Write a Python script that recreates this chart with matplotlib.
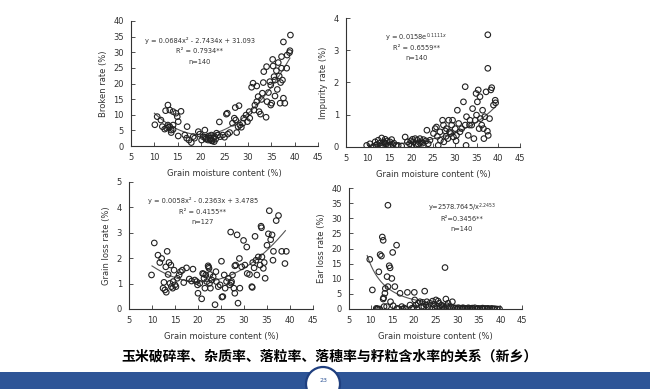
import numpy as np
import matplotlib
matplotlib.use("Agg")
import matplotlib.pyplot as plt
from matplotlib.patches import Rectangle, Ellipse

plt.rcParams['font.family'] = ['DejaVu Sans']

# ---- data ----
broken_x = [10.1, 10.6, 11.4, 11.7, 12.4, 12.9, 13.3, 14.0, 14.9, 15.1, 15.7, 14.6,
            12.6, 13.3, 13.6, 12.9, 14.0, 13.6, 14.0, 15.1, 16.5, 17.0, 16.9, 17.4,
            17.9, 18.3, 18.6, 19.4, 19.7, 20.1, 20.4, 20.8, 21.1, 21.5, 21.9, 22.2,
            22.2, 22.6, 22.8, 22.9, 23.3, 23.6, 23.9, 24.1, 24.6, 25.0, 25.4, 25.6,
            25.7, 26.1, 26.7, 27.1, 27.4, 27.3, 28.1, 27.6, 27.9, 28.3, 28.6, 28.9,
            29.1, 29.6, 29.9, 30.3, 30.4, 30.8, 31.1, 31.3, 31.5, 31.9, 31.9, 32.2,
            32.4, 32.7, 32.9, 33.1, 33.3, 33.4, 33.9, 34.0, 34.1, 34.4, 34.7, 34.9,
            34.9, 35.1, 35.3, 35.4, 35.6, 35.8, 35.8, 36.1, 36.3, 36.5, 36.7, 36.9,
            37.0, 37.2, 37.2, 37.4, 37.6, 37.6, 37.9, 38.3, 38.4, 38.9, 39.0, 39.1,
            21.0, 22.0, 21.6, 22.4, 20.9, 12.2, 13.0, 23.1]
broken_y = [6.8, 9.4, 8.3, 6.2, 11.3, 13.1, 11.5, 11.0, 9.4, 7.8, 11.1, 10.5,
            5.7, 6.2, 5.1, 6.7, 6.7, 4.3, 5.3, 3.2, 3.5, 6.2, 2.5, 1.9,
            1.1, 3.0, 2.5, 4.6, 3.8, 1.9, 3.0, 5.1, 2.5, 1.9, 2.5, 3.5,
            1.7, 2.5, 1.4, 3.0, 4.1, 3.5, 7.7, 3.0, 3.5, 2.8, 10.2, 10.5,
            3.8, 4.3, 7.3, 8.9, 8.3, 12.3, 12.9, 4.3, 6.2, 6.7, 6.0, 7.3,
            8.9, 9.9, 7.8, 11.0, 8.9, 18.8, 20.1, 11.5, 13.1, 19.2, 14.2, 15.8,
            11.0, 10.2, 14.9, 16.9, 20.3, 23.8, 9.2, 25.4, 14.2, 17.1, 20.6, 19.5,
            13.1, 13.7, 27.7, 25.6, 22.2, 21.1, 16.0, 24.1, 18.1, 26.7, 22.4, 13.7,
            20.3, 24.9, 28.6, 21.1, 15.3, 33.3, 13.7, 24.9, 29.1, 29.9, 30.5, 35.5,
            2.2, 2.0, 3.2, 1.6, 2.8, 5.4, 6.0, 2.2]

impurity_x = [9.75, 10.5, 11.3, 11.7, 12.2, 12.4, 12.8, 13.2, 13.4, 13.7, 14.0, 14.2,
              14.5, 14.7, 15.1, 15.5, 15.7, 16.0, 16.5, 17.0, 17.8, 18.6, 19.1, 19.6,
              19.9, 20.1, 20.5, 20.9, 21.1, 21.4, 21.9, 22.0, 22.4, 22.8, 23.4, 23.9,
              24.3, 22.8, 23.6, 25.1, 25.5, 25.8, 26.0, 26.2, 26.6, 26.7, 27.2, 27.4,
              27.5, 27.8, 28.0, 28.1, 28.4, 28.6, 28.8, 29.1, 29.3, 29.5, 29.7, 30.1,
              30.3, 30.4, 30.6, 30.9, 31.2, 31.6, 32.0, 32.4, 32.4, 32.6, 32.7, 33.1,
              33.4, 33.5, 33.9, 34.1, 34.4, 34.7, 34.9, 35.0, 35.2, 35.4, 35.6, 35.8,
              35.9, 36.2, 36.4, 36.6, 36.7, 36.9, 37.2, 37.5, 37.6, 37.6, 37.7, 38.0,
              38.3, 38.5, 38.9, 39.3, 39.4, 12.9, 13.9, 11.9, 15.3, 21.6, 22.6, 20.3]
impurity_y = [0.05, 0.10, 0.02, 0.16, 0.08, 0.21, 0.12, 0.28, 0.05, 0.16, 0.24, 0.10,
              0.19, 0.05, 0.16, 0.23, 0.08, 0.12, 0.05, 0.05, 0.03, 0.31, 0.16, 0.10,
              0.19, 0.05, 0.16, 0.26, 0.08, 0.21, 0.14, 0.26, 0.16, 0.23, 0.19, 0.10,
              0.21, 0.05, 0.52, 0.42, 0.57, 0.62, 0.33, 0.05, 0.47, 0.21, 0.83, 0.68,
              0.16, 0.50, 0.33, 0.57, 0.26, 0.83, 0.47, 0.42, 0.68, 0.83, 0.31, 0.57,
              0.19, 0.36, 1.14, 0.73, 0.47, 0.57, 1.40, 0.68, 1.87, 0.05, 0.94, 0.36,
              0.68, 0.83, 0.68, 1.19, 0.26, 0.83, 1.66, 0.99, 1.40, 1.77, 0.57, 1.56,
              0.88, 0.68, 1.14, 0.57, 0.26, 0.94, 1.71, 0.49, 3.48, 2.44, 0.36, 0.88,
              1.77, 1.84, 1.30, 1.45, 1.37, 0.03, 0.12, 0.06, 0.02, 0.09, 0.12, 0.24]

grainloss_x = [9.9, 10.5, 11.3, 11.7, 12.1, 12.4, 12.6, 12.8, 13.0, 13.1, 13.3, 13.5,
               13.7, 13.9, 14.1, 14.2, 14.5, 14.6, 14.8, 15.0, 15.2, 15.5, 15.9, 16.2,
               16.6, 16.9, 17.5, 18.1, 18.6, 18.9, 19.3, 19.7, 19.9, 20.0, 20.4, 20.8,
               21.0, 21.3, 21.5, 21.7, 21.9, 22.2, 22.4, 22.5, 22.6, 22.7, 23.0, 23.3,
               23.7, 23.9, 24.0, 24.4, 24.8, 25.1, 25.4, 25.7, 25.9, 26.2, 26.6, 26.9,
               27.1, 27.3, 27.5, 27.8, 28.0, 28.2, 28.5, 28.7, 29.0, 29.1, 29.5, 29.9,
               30.2, 30.6, 30.7, 31.2, 31.7, 31.9, 32.2, 32.4, 32.6, 32.8, 33.1, 33.5,
               33.7, 33.9, 34.2, 34.4, 34.6, 35.0, 35.3, 35.5, 35.8, 36.1, 36.3, 36.4,
               37.0, 37.5, 38.2, 38.9, 39.2, 25.2, 22.3, 33.8, 31.8, 28.0, 21.2, 27.2]
grainloss_y = [1.34, 2.60, 2.12, 1.83, 1.99, 0.82, 1.05, 0.75, 1.66, 0.66, 2.27, 1.36,
               1.83, 1.01, 1.73, 0.88, 0.82, 1.08, 1.53, 0.95, 0.88, 1.21, 1.34, 1.47,
               1.53, 1.04, 1.62, 1.18, 1.10, 1.57, 1.14, 1.08, 0.95, 0.62, 1.01, 0.40,
               1.40, 1.21, 0.82, 1.34, 1.08, 1.70, 1.60, 1.01, 1.36, 0.82, 1.14, 1.27,
               0.17, 1.47, 1.08, 0.88, 0.95, 1.88, 0.49, 1.34, 0.82, 1.08, 1.21, 0.95,
               3.03, 1.08, 1.34, 0.82, 0.62, 1.73, 2.92, 0.23, 1.99, 0.82, 1.66, 2.70,
               1.73, 2.44, 1.40, 1.36, 0.88, 1.83, 1.62, 2.86, 1.92, 1.34, 2.05, 1.73,
               3.26, 2.05, 1.60, 1.83, 1.21, 2.51, 2.96, 3.87, 2.73, 2.92, 1.92, 2.27,
               3.48, 3.68, 2.27, 1.79, 2.27, 0.47, 1.65, 3.20, 0.85, 1.70, 1.38, 1.02]

earloss_x = [9.8, 10.4, 11.3, 11.7, 11.9, 12.2, 12.5, 12.7, 12.9, 12.9, 13.0, 13.1,
             13.3, 13.4, 13.7, 13.8, 14.0, 14.0, 14.3, 14.5, 14.6, 14.9, 15.1, 15.2,
             15.6, 16.0, 16.1, 16.8, 17.2, 17.4, 18.1, 18.5, 19.1, 19.5, 19.9, 20.1,
             20.2, 20.5, 20.8, 21.0, 21.4, 21.8, 22.0, 22.3, 22.5, 22.8, 23.0, 23.3,
             23.7, 24.1, 24.3, 24.6, 24.9, 25.1, 25.4, 25.6, 25.8, 26.1, 26.4, 26.6,
             26.9, 27.2, 27.4, 27.6, 27.9, 28.2, 28.5, 28.9, 29.1, 29.5, 29.9, 30.3,
             30.7, 31.1, 31.4, 31.8, 32.2, 32.6, 32.9, 33.3, 33.7, 34.1, 34.5, 34.9,
             35.3, 35.7, 36.1, 36.5, 36.9, 37.2, 37.6, 38.0, 38.4, 39.2, 39.8, 11.5,
             12.1, 16.5, 17.8, 30.0, 31.2, 32.4, 33.5, 34.7, 35.9, 37.0, 38.7, 27.0]
earloss_y = [16.4, 6.3, 0.2, 0.0, 12.3, 18.0, 17.5, 23.8, 22.7, 3.3, 3.7, 0.8,
             5.2, 6.8, 0.8, 10.7, 34.3, 7.4, 14.3, 13.6, 2.4, 10.1, 18.7, 1.1,
             7.4, 21.1, 0.2, 5.2, 0.8, 0.0, 0.0, 5.5, 1.3, 0.2, 0.4, 5.5,
             3.0, 1.3, 0.0, 1.9, 2.4, 0.8, 2.2, 0.8, 5.9, 1.3, 2.4, 0.8,
             1.9, 0.0, 2.6, 1.5, 0.4, 3.0, 0.8, 2.6, 1.9, 0.2, 1.3, 0.8,
             0.0, 13.7, 3.3, 1.1, 1.9, 0.2, 0.8, 2.4, 0.4, 0.2, 0.0, 0.4,
             0.2, 0.0, 0.4, 0.2, 0.0, 0.4, 0.2, 0.0, 0.2, 0.4, 0.0, 0.2,
             0.0, 0.2, 0.0, 0.2, 0.0, 0.2, 0.0, 0.2, 0.0, 0.0, 0.0, 0.1,
             0.0, 0.1, 0.3, 0.1, 0.3, 0.1, 0.3, 0.1, 0.3, 0.1, 0.1, 0.3]

ylabels = ['Broken rate (%)', 'Impurity rate (%)', 'Grain loss rate (%)', 'Ear loss rate (%)']
xlabel = 'Grain moisture content (%)'
yticks = [[0, 5, 10, 15, 20, 25, 30, 35, 40], [0, 1, 2, 3, 4],
          [0, 1, 2, 3, 4, 5], [0, 5, 10, 15, 20, 25, 30, 35, 40]]
xticks = [5, 10, 15, 20, 25, 30, 35, 40, 45]
equations = [
    ['y = 0.0684x² - 2.7434x + 31.093', 'R² = 0.7934**', 'n=140'],
    ['y = 0.0158e$^{0.1111x}$', 'R² = 0.6559**', 'n=140'],
    ['y = 0.0058x² - 0.2363x + 3.4785', 'R² = 0.4155**', 'n=127'],
    ['y=2578.7645/x$^{2.2453}$', 'R²=0.3456**', 'n=140'],
]
caption = '玉米破碎率、杂质率、落粒率、落穗率与籽粒含水率的关系（新乡）'
page_no = '23'


def fit_broken(x):
    return 0.0684 * x ** 2 - 2.7434 * x + 31.093


def fit_impurity(x):
    return 0.0158 * np.exp(0.1111 * x)


def fit_grainloss(x):
    return 0.0058 * x ** 2 - 0.2363 * x + 3.4785


def fit_earloss(x):
    return 2578.7645 / x ** 2.2453


panels = [
    (broken_x, broken_y, fit_broken, (10, 39)),
    (impurity_x, impurity_y, fit_impurity, (10, 39.3)),
    (grainloss_x, grainloss_y, fit_grainloss, (10, 39)),
    (earloss_x, earloss_y, fit_earloss, (9.2, 40)),
]

# axes rectangles in pixels (left, right, top, bottom) of a 650x389 canvas
boxes = [(131, 318, 21, 146), (346, 520, 18, 147), (129, 313, 182, 309), (349, 522, 188, 309)]
# equation anchor (x centre, y of the three lines) in data units
eq_pos = [(19.7, [33.7, 30.3, 27.0]), (21.2, [3.40, 3.08, 2.77]),
          (21.1, [4.26, 3.83, 3.42]), (31.1, [33.6, 29.9, 26.6])]

W, H = 650, 389
fig = plt.figure(figsize=(6.5, 3.89), dpi=100)
fig.patch.set_facecolor('white')

txt_color = '#333333'
for i, (xs, ys, fit, (x0, x1)) in enumerate(panels):
    l, r, t, b = boxes[i]
    ax = fig.add_axes([l / W, (H - b) / H, (r - l) / W, (b - t) / H])
    ax.scatter(xs, ys, s=16, facecolors='none', edgecolors='#222222', linewidths=0.8, zorder=3)
    xx = np.linspace(x0, x1, 200)
    ax.plot(xx, fit(xx), color='#555555', lw=0.8, zorder=2)
    ax.set_xlim(5, 45)
    ax.set_ylim(yticks[i][0], yticks[i][-1])
    ax.set_xticks(xticks)
    ax.set_yticks(yticks[i])
    for s in ['top', 'right']:
        ax.spines[s].set_visible(False)
    for s in ['left', 'bottom']:
        ax.spines[s].set_linewidth(0.8)
        ax.spines[s].set_color('#333333')
    ax.tick_params(direction='in', length=3, width=0.6, labelsize=6,
                   colors='#333333', labelcolor=txt_color, pad=5)
    ax.set_xlabel(xlabel, fontsize=6, color=txt_color, labelpad=5)
    ax.set_ylabel(ylabels[i], fontsize=6, color=txt_color, labelpad=4)
    ax.patch.set_alpha(0)
    xc, ylines = eq_pos[i]
    for s, yv in zip(equations[i], ylines):
        ax.text(xc, yv, s, fontsize=4.8, ha='center', va='center', color=txt_color)

# caption
fig.text(330 / W, 1 - 357 / H, caption, fontsize=10, fontweight='bold',
         family=['Noto Sans CJK SC', 'DejaVu Sans'], ha='center', va='center', color='black')

# bottom band and page number
blue = '#2E5597'
fig.patches.append(Rectangle((0, 0), 1, 17 / H, transform=fig.transFigure,
                             facecolor=blue, edgecolor='none', zorder=1))
fig.patches.append(Ellipse((323 / W, 1 - 384 / H), 34 / W, 34 / H, transform=fig.transFigure,
                           facecolor='white', edgecolor='#1F3F7F', linewidth=1.6, zorder=2))
fig.text(323 / W, 1 - 381 / H, page_no, fontsize=4.5, color=blue,
         ha='center', va='center', zorder=3)

fig.savefig('out.png', dpi=100)
